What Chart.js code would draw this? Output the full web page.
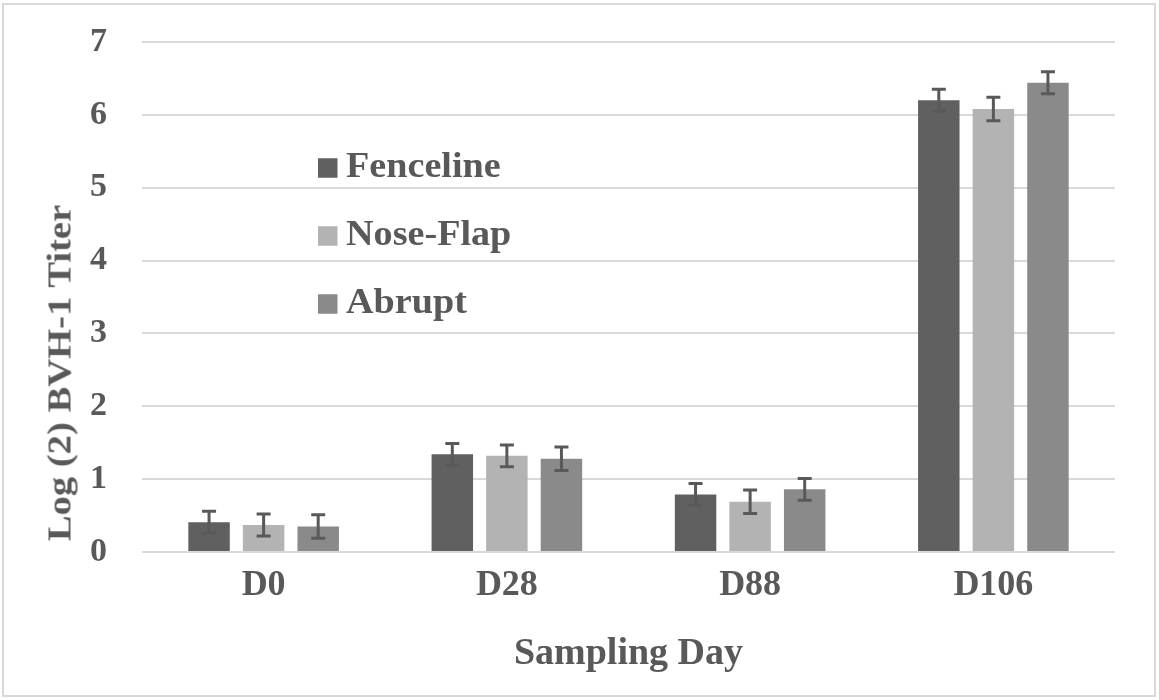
<!DOCTYPE html>
<html lang="en">
<head>
  <meta charset="UTF-8">
  <title>Log (2) BVH-1 Titer by Sampling Day</title>
  <script src="https://cdn.jsdelivr.net/npm/chart.js"></script>
  <style>
    body { margin: 0; background: #fff; }
    .frame { position: absolute; left: 2px; top: 3px; width: 1154px; height: 694px; border: 2px solid #d9d9d9; box-sizing: border-box; }
    .wrap { position: absolute; left: 0; top: 0; width: 1159px; height: 700px; }
    /* axis title lettering is a bit wider than plain Times, so it gets a small stretch */
    .ytitle {
      position: absolute; left: 60px; top: 373px;
      white-space: nowrap; line-height: 1;
      font: bold 33px 'Liberation Serif', serif; color: #595959;
      transform: translate(-50%, -50%) rotate(-90deg) scaleX(1.17);
    }
  </style>
</head>
<body>
  <div class="frame"></div>
  <div class="wrap">
    <canvas id="titerChart" width="1159" height="700"></canvas>
  </div>
  <div class="ytitle">Log (2) BVH-1 Titer</div>

  <script>
    const days = ['D0', 'D28', 'D88', 'D106'];

    const fenceline = [0.41, 1.34, 0.79, 6.20];
    const noseFlap  = [0.37, 1.32, 0.69, 6.08];
    const abrupt    = [0.35, 1.28, 0.86, 6.44];

    const fencelineErr = [0.15, 0.15, 0.15, 0.15];
    const noseFlapErr  = [0.15, 0.15, 0.16, 0.16];
    const abruptErr    = [0.16, 0.16, 0.15, 0.15];

    const yMin = 0, yMax = 7, yStep = 1;

    const textColor = '#595959';
    const font = (size, lh) => ({ family: "'Liberation Serif', serif", size: size, weight: 'bold', lineHeight: lh || 1.2 });

    // error bars drawn from the y scale, on top of each bar
    const errorBars = {
      id: 'errorBars',
      afterDatasetsDraw(chart, args, opts) {
        const ctx = chart.ctx, y = chart.scales.y;
        ctx.save();
        ctx.strokeStyle = opts.color;
        chart.data.datasets.forEach((ds, i) => {
          chart.getDatasetMeta(i).data.forEach((bar, j) => {
            const v = ds.data[j], e = ds.errors[j];
            const top = y.getPixelForValue(v + e), bot = y.getPixelForValue(v - e);
            ctx.lineWidth = opts.stemWidth;
            ctx.beginPath();
            ctx.moveTo(bar.x, top);
            ctx.lineTo(bar.x, bot);
            ctx.stroke();
            ctx.lineWidth = opts.capWidth;
            ctx.beginPath();
            ctx.moveTo(bar.x - opts.capHalf, top); ctx.lineTo(bar.x + opts.capHalf, top);
            ctx.moveTo(bar.x - opts.capHalf, bot); ctx.lineTo(bar.x + opts.capHalf, bot);
            ctx.stroke();
          });
        });
        ctx.restore();
      }
    };

    // legend sits inside the plot, stacked; its lettering is drawn slightly wide
    const sideLegend = {
      id: 'sideLegend',
      afterDraw(chart, args, opts) {
        const ctx = chart.ctx;
        ctx.save();
        ctx.font = opts.font;
        ctx.textBaseline = 'middle';
        chart.data.datasets.forEach((ds, i) => {
          const cy = opts.top + i * opts.spacing;
          ctx.fillStyle = ds.backgroundColor;
          ctx.fillRect(opts.left, cy - opts.boxH / 2, opts.boxW, opts.boxH);
          ctx.fillStyle = opts.color;
          ctx.save();
          ctx.translate(opts.textLeft, cy);
          ctx.scale(opts.stretch, 1);
          ctx.fillText(ds.label, 0, 0);
          ctx.restore();
        });
        ctx.restore();
      }
    };

    new Chart(document.getElementById('titerChart'), {
      type: 'bar',
      data: {
        labels: days,
        datasets: [
          { label: 'Fenceline', data: fenceline, errors: fencelineErr, backgroundColor: '#606060' },
          { label: 'Nose-Flap', data: noseFlap,  errors: noseFlapErr,  backgroundColor: '#b3b3b3' },
          { label: 'Abrupt',    data: abrupt,    errors: abruptErr,    backgroundColor: '#8a8a8a' }
        ]
      },
      options: {
        responsive: false,
        animation: false,
        devicePixelRatio: 1,
        categoryPercentage: 0.673,
        barPercentage: 0.76,
        layout: { padding: { left: 0, right: 44, top: 42, bottom: 0 } },
        plugins: {
          legend: { display: false },
          tooltip: { enabled: false },
          errorBars: { color: '#595959', stemWidth: 3, capWidth: 3, capHalf: 7 },
          sideLegend: {
            font: "bold 36px 'Liberation Serif', serif", color: textColor, stretch: 1.06,
            left: 318, top: 168, spacing: 68, boxW: 19.5, boxH: 19.5, textLeft: 346
          }
        },
        scales: {
          x: {
            grid: { display: false },
            border: { display: false },
            ticks: { color: textColor, font: font(36), padding: 4 },
            title: { display: true, text: 'Sampling Day', color: textColor, font: font(38), padding: { top: 0, bottom: 23 } },
            afterFit: s => { s.height = 148; }
          },
          y: {
            min: yMin, max: yMax,
            grid: { color: '#d9d9d9', lineWidth: 2, drawTicks: false },
            border: { display: false },
            // small lineHeight keeps the label padding from pushing the plot top down
            ticks: { stepSize: yStep, color: textColor, font: font(34, 0.2), padding: 35 },
            afterFit: s => { s.width = 142; }
          }
        }
      },
      plugins: [errorBars, sideLegend]
    });
  </script>
</body>
</html>
